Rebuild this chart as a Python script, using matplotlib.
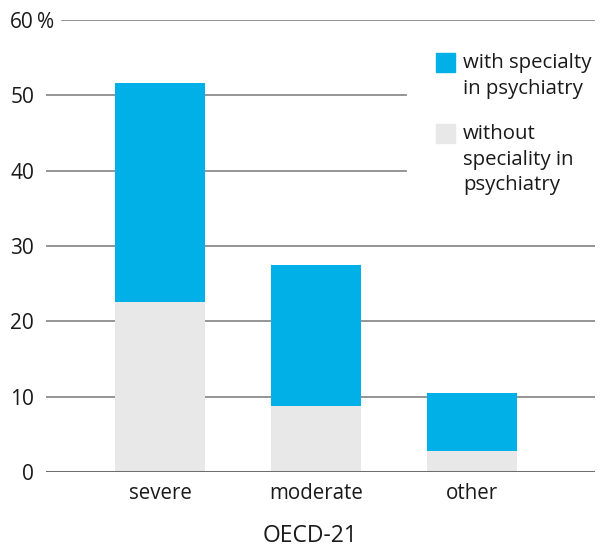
import matplotlib
matplotlib.use("Agg")
import matplotlib.pyplot as plt
from matplotlib.patches import Rectangle

plt.rcParams['font.family'] = ['Open Sans', 'DejaVu Sans']

categories = ["severe", "moderate", "other"]
without_spec = [22.6, 8.8, 2.8]
total = [51.6, 27.5, 10.5]
with_spec = [t - w for t, w in zip(total, without_spec)]
yticks = [0, 10, 20, 30, 40, 50, 60]

blue = "#00B0E6"
grey = "#E8E8E8"
W, H = 602, 547

fig = plt.figure(figsize=(W / 100, H / 100), dpi=100)
ax = fig.add_axes([46 / W, (H - 472) / H, 549 / W, 452 / H])

x = range(len(categories))
ax.bar(x, without_spec, width=0.577, color=grey, zorder=2)
ax.bar(x, with_spec, width=0.577, bottom=without_spec, color=blue, zorder=2)

ax.set_xlim(-0.731, 2.788)
ax.set_ylim(0, 60)

# grid lines drawn by hand: some stop before the legend
for t in yticks:
    if t == 0:
        ax.axhline(t, color="#6e6e6e", lw=2.2, zorder=3)
    elif t == 60:
        ax.axhline(t, xmin=0.029, color="#8c8c8c", lw=1.3, zorder=1)
    elif t in (40, 50):
        ax.axhline(t, xmax=0.655, color="#8c8c8c", lw=1.3, zorder=1)
    else:
        ax.axhline(t, color="#8c8c8c", lw=1.3, zorder=1)

ax.set_yticks(yticks)
ax.set_yticklabels([str(t) for t in yticks])
ax.tick_params(axis="y", length=0, pad=8.6, labelsize=15, labelcolor="#1a1a1a")
ax.set_xticks(list(x))
ax.set_xticklabels(categories)
ax.tick_params(axis="x", length=0, pad=8, labelsize=14.8, labelcolor="#1a1a1a")
ax.text(-0.0164, 60, "%", transform=ax.get_yaxis_transform(), ha="left",
        va="center_baseline", fontsize=15, color="#1a1a1a")

for s in ax.spines.values():
    s.set_visible(False)

# legend
fig.patches.append(Rectangle((436 / W, 1 - 72 / H), 19 / W, 19 / H,
                             transform=fig.transFigure, color=blue))
fig.patches.append(Rectangle((436 / W, 1 - 143 / H), 19 / W, 19 / H,
                             transform=fig.transFigure, color=grey))
fig.text(463 / W, 1 - 53 / H, "with specialty\nin psychiatry", ha="left",
         va="top", fontsize=14.7, linespacing=1.38, color="#1a1a1a")
fig.text(463 / W, 1 - 124 / H, "without\nspeciality in\npsychiatry", ha="left",
         va="top", fontsize=14.7, linespacing=1.38, color="#1a1a1a")

fig.text(310 / W, 1 - 536 / H, "OECD-21", ha="center", va="center",
         fontsize=16.5, color="#1a1a1a")

fig.savefig("out.png", dpi=100)
